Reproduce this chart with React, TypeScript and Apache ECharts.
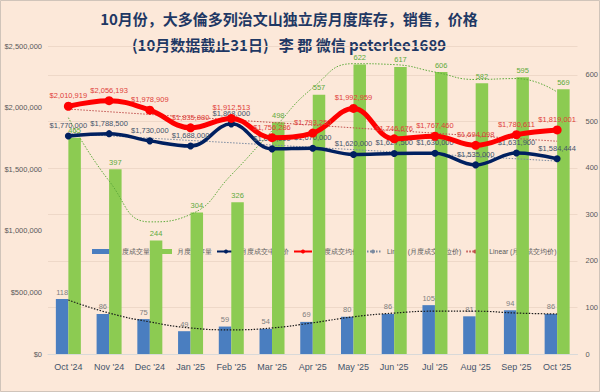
import { useEffect, useRef } from 'react';
import * as echarts from 'echarts';

const categories = ["Oct '24", "Nov '24", "Dec '24", "Jan '25", "Feb '25", "Mar '25", "Apr '25", "May '25", "Jun '25", "Jul '25", "Aug '25", "Sep '25", "Oct '25"];
const salesVolume = [118, 86, 75, 49, 59, 54, 69, 80, 86, 105, 81, 94, 86];
const inventory = [465, 397, 244, 304, 326, 498, 557, 622, 617, 606, 582, 595, 569];
const medianPrice = [1770000, 1788500, 1730000, 1688000, 1868000, 1665000, 1670000, 1620000, 1627500, 1630000, 1535000, 1631900, 1584444];
const averagePrice = [2010919, 2056193, 1978909, 1835880, 1912513, 1756286, 1793250, 1992959, 1746676, 1767460, 1694098, 1780611, 1819001];
const medianTrend = [1789000, null, null, null, null, null, null, null, null, null, null, null, 1566000];
const averageTrend = [1988000, null, null, null, null, null, null, null, null, null, null, null, 1727000];
const inventoryTrend = [508, 372, 284, 300, 385, 480, 572, 624, 622, 606, 590, 592, 563];
const salesTrend = [116, 88, 69, 56, 52, 56, 67, 80, 88, 92, 92, 88, 86];
const leftTicks = [0, 500000, 1000000, 1500000, 2000000, 2500000];

const titleLine1 = '10月份，大多倫多列治文山独立房月度库存，销售，价格';
const titleLine2 = '(10月数据截止31日)   李 郡 微信 peterlee1689';

const money = (v: number) => '$' + Math.round(v).toLocaleString('en-US');
const FONT = 'Liberation Sans, Arial, sans-serif';

export default function App() {
  const ref = useRef<HTMLDivElement>(null);
  useEffect(() => {
    if (!ref.current) return;
    const chart = echarts.init(ref.current, null, { renderer: 'svg' });
    chart.setOption({
      animation: false,
      backgroundColor: '#FCE8D9',
      textStyle: { fontFamily: FONT },
      graphic: [
        { type: 'rect', shape: { x: 0.5, y: 0.5, width: 599, height: 391 }, style: { fill: 'none', stroke: '#D0C4BA', lineWidth: 1 }, silent: true },
        { type: 'text', x: 289, y: 18, style: { text: titleLine1, font: 'bold 15px "Noto Sans CJK SC"', fill: '#1F3864', textAlign: 'center', textVerticalAlign: 'middle' } },
        { type: 'text', x: 289, y: 44, style: { text: titleLine2, font: 'bold 15px "Noto Sans CJK SC"', fill: '#1F3864', textAlign: 'center', textVerticalAlign: 'middle' } },
      ],
      legend: {
        left: 92,
        top: 248,
        width: 508,
        padding: 0,
        z: 1,
        itemWidth: 18,
        itemHeight: 5,
        itemGap: 4,
        textStyle: { fontSize: 6.8, color: '#595959', fontFamily: FONT },
        data: [
          { name: '月度成交量', icon: 'rect' },
          { name: '月度库存量', icon: 'rect' },
          { name: '月度成交中位价' },
          { name: '月度成交均价' },
          { name: 'Linear (月度成交中位价)' },
          { name: 'Linear (月度成交均价)' },
        ],
      },
      grid: { left: 48, right: 22.5, top: 46, bottom: 38, outerBoundsMode: 'none' },
      xAxis: {
        type: 'category',
        data: categories,
        axisTick: { show: false },
        axisLine: { lineStyle: { color: '#D9D9D9' } },
        axisLabel: { interval: 0, fontSize: 9, color: '#44546A', margin: 8, fontFamily: FONT },
      },
      yAxis: [
        {
          type: 'value',
          min: 0,
          max: 2500000,
          interval: 500000,
          splitLine: { show: false },
          axisLine: { show: false },
          axisTick: { show: false },
          axisLabel: { fontSize: 7.5, color: '#595959', margin: 6, formatter: (v: number) => (leftTicks.includes(v) ? money(v) : '') },
        },
        {
          type: 'value',
          min: 0,
          max: 662,
          interval: 100,
          position: 'right',
          splitLine: { show: true, lineStyle: { color: '#EED8C8', width: 1 } },
          axisLine: { show: false },
          axisTick: { show: false },
          axisLabel: { fontSize: 7.5, color: '#595959', margin: 8, showMaxLabel: false },
        },
      ],
      series: [
        {
          name: '月度成交量',
          type: 'bar',
          yAxisIndex: 1,
          data: salesVolume,
          barWidth: 12.5,
          barGap: '0%',
          itemStyle: { color: '#4A7EC0' },
          label: { show: true, position: 'top', distance: 3, fontSize: 7.5, color: '#7F7F7F' },
          z: 2,
        },
        {
          name: '月度库存量',
          type: 'bar',
          yAxisIndex: 1,
          data: inventory,
          barWidth: 12.5,
          barGap: '0%',
          itemStyle: { color: '#8CCB52' },
          label: { show: true, position: 'top', distance: 3, fontSize: 7.5, color: '#5EAA3C' },
          z: 2,
        },
        {
          name: 'salesTrend',
          type: 'line',
          yAxisIndex: 1,
          data: salesTrend,
          smooth: 0.5,
          symbol: 'none',
          lineStyle: { color: '#1A1A1A', width: 1.2, type: [1.5, 1.5] },
          z: 3,
        },
        {
          name: 'inventoryTrend',
          type: 'line',
          yAxisIndex: 1,
          data: inventoryTrend,
          smooth: 0.5,
          symbol: 'none',
          lineStyle: { color: '#5EAA3C', width: 1, type: [1.5, 1.5] },
          z: 3,
        },
        {
          name: 'Linear (月度成交中位价)',
          type: 'line',
          yAxisIndex: 0,
          data: medianTrend,
          connectNulls: true,
          symbol: 'none',
          itemStyle: { color: '#7A8AA0' },
          lineStyle: { color: '#7A8AA0', width: 1, type: [1.5, 1.5] },
          z: 3,
        },
        {
          name: 'Linear (月度成交均价)',
          type: 'line',
          yAxisIndex: 0,
          data: averageTrend,
          connectNulls: true,
          symbol: 'none',
          itemStyle: { color: '#C0504D' },
          lineStyle: { color: '#C0504D', width: 1, type: [1.5, 1.5] },
          z: 3,
        },
        {
          name: '月度成交中位价',
          type: 'line',
          yAxisIndex: 0,
          data: medianPrice,
          smooth: 0.4,
          symbol: 'circle',
          symbolSize: 7,
          itemStyle: { color: '#002060' },
          lineStyle: { color: '#002060', width: 3.5 },
          label: { show: true, position: 'top', distance: 3, fontSize: 7.5, color: '#44546A', formatter: (p: any) => money(p.value) },
          z: 5,
        },
        {
          name: '月度成交均价',
          type: 'line',
          yAxisIndex: 0,
          data: averagePrice,
          smooth: 0.4,
          symbol: 'circle',
          symbolSize: 9,
          itemStyle: { color: '#FF0000' },
          lineStyle: { color: '#FF0000', width: 5 },
          label: { show: true, position: 'top', distance: 2, fontSize: 7.5, color: '#E0403A', formatter: (p: any) => money(p.value) },
          z: 6,
        },
      ],
    });
    return () => chart.dispose();
  }, []);
  return <div ref={ref} style={{ position: 'fixed', left: 0, top: 0, width: 600, height: 392 }} />;
}
